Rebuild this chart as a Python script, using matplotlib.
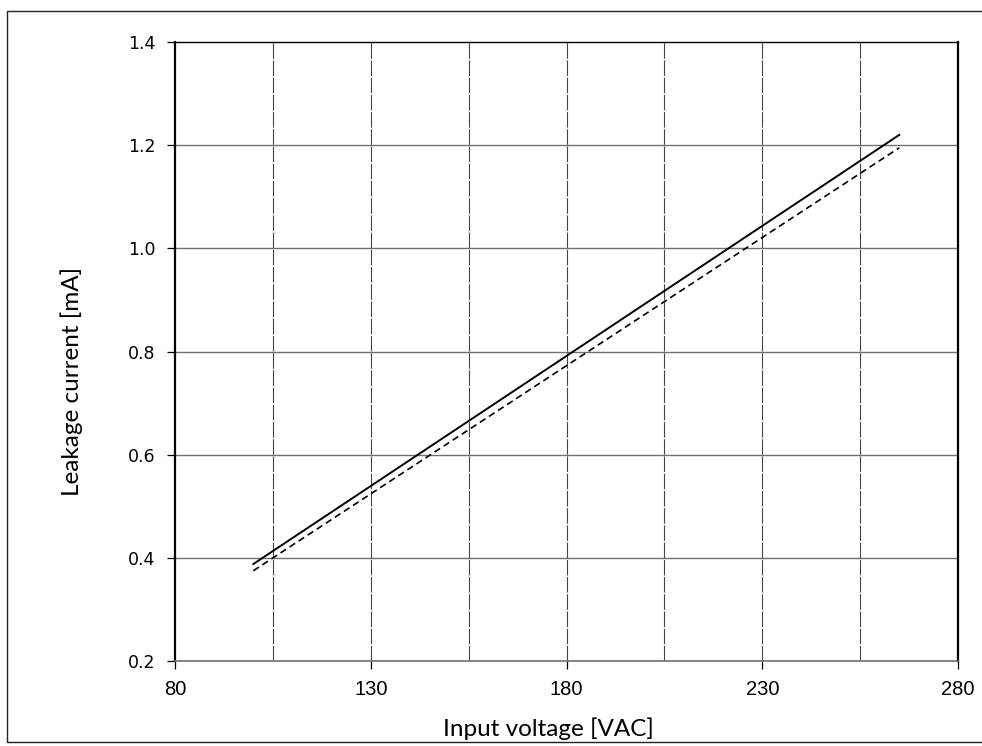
import numpy as np
import matplotlib.pyplot as plt
from matplotlib.patches import Rectangle

# values
voltage = [100, 265]
leak_solid = [0.388, 1.220]
leak_dashed = [0.375, 1.195]

x_ticks = [80, 130, 180, 230, 280]
x_grid = [105, 130, 155, 180, 205, 230, 255]
y_ticks = [0.2, 0.4, 0.6, 0.8, 1.0, 1.2, 1.4]

fig = plt.figure(figsize=(9.82, 7.46), dpi=100)
ax = fig.add_axes([0.1782, 0.1139, 0.7974, 0.8298])

# outer frame (right edge falls off the scan)
fig.patches.append(Rectangle((0.007, 0.005), 1.1, 0.98, transform=fig.transFigure,
                             fill=False, edgecolor='#222222', linewidth=1.0))

for xv in x_grid:
    ax.axvline(xv, color='#444444', linewidth=0.8, linestyle=(0, (14, 1.5)), zorder=1)
for yv in y_ticks[1:-1]:
    ax.axhline(yv, color='#707070', linewidth=1.0, zorder=1)

ax.plot(voltage, leak_solid, color='black', linewidth=1.4, zorder=3)
ax.plot(voltage, leak_dashed, color='black', linewidth=1.2, linestyle=(0, (4, 2.5)), zorder=3)

ax.set_xlim(80, 280)
ax.set_ylim(0.2, 1.4)
ax.set_xticks(x_ticks)
ax.set_yticks(y_ticks)
ax.set_yticklabels([f'{v:.1f}' for v in y_ticks], fontfamily='DejaVu Sans', fontsize=12.5)
ax.set_xticklabels([str(v) for v in x_ticks], fontfamily='Liberation Sans', fontsize=14.5)
ax.tick_params(axis='both', direction='out', length=6, width=0.9, colors='black')
ax.tick_params(axis='x', pad=8)
ax.tick_params(axis='y', pad=8)

for side in ['left', 'right', 'top']:
    ax.spines[side].set_color('black')
ax.spines['left'].set_linewidth(1.6)
ax.spines['right'].set_linewidth(1.6)
ax.spines['top'].set_linewidth(1.0)
ax.spines['bottom'].set_color('#707070')
ax.spines['bottom'].set_linewidth(1.2)

fig.text(548 / 982, 1 - 729 / 746, 'Input voltage [VAC]', fontfamily='Lato', fontsize=17.5,
         ha='center', va='center')
fig.text(72 / 982, 1 - 381 / 746, 'Leakage current [mA]', fontfamily='Lato', fontsize=17.5,
         ha='center', va='center', rotation=90)

plt.savefig('out.png', dpi=100)
